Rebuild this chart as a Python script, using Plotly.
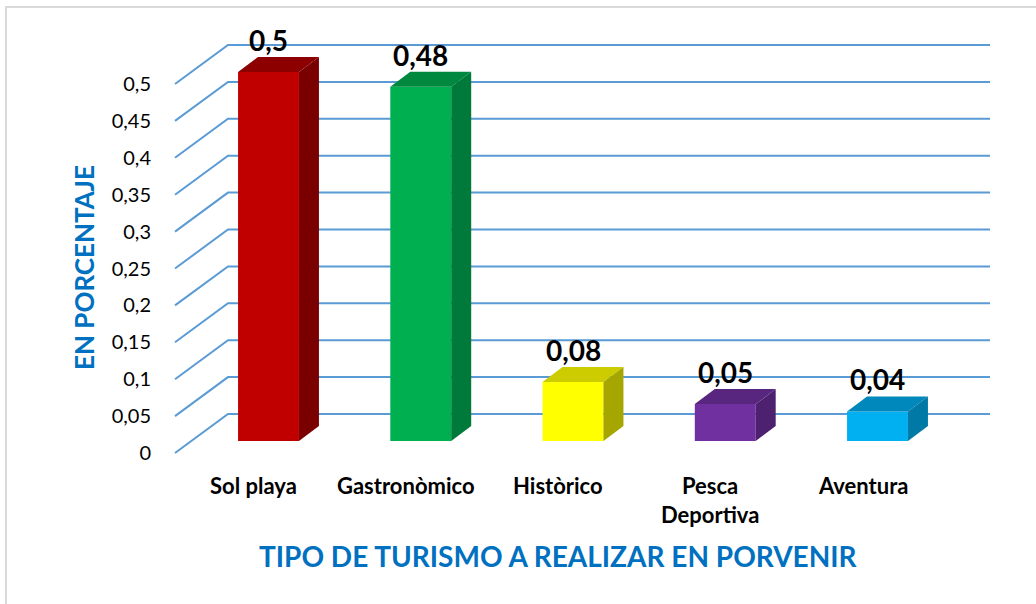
import plotly.graph_objects as go

# ---- data ----
categories = ["Sol playa", "Gastronòmico", "Històrico", "Pesca<br>Deportiva", "Aventura"]
values = [0.5, 0.48, 0.08, 0.05, 0.04]
value_labels = ["0,5", "0,48", "0,08", "0,05", "0,04"]
tick_values = [0, 0.05, 0.1, 0.15, 0.2, 0.25, 0.3, 0.35, 0.4, 0.45, 0.5]
front_colors = ["#C00000", "#00B050", "#FFFF00", "#7030A0", "#00B0F0"]
side_colors = ["#7A0000", "#007A3A", "#A6A600", "#4E2170", "#0079A6"]
top_colors = ["#8C0000", "#00883F", "#CCCC00", "#58257F", "#0088BC"]
x_title = "TIPO DE TURISMO A REALIZAR EN PORVENIR"
y_title = "EN PORCENTAJE"

# ---- geometry (pixels of the 1036x604 page) ----
W, H = 1036, 604
L, R, T, B = 168, 996, 36, 460
PX0, PXSTEP = 268.5, 152.25      # pixel x of first category, spacing
PY0, PYUNIT = 441.0, 738.0       # pixel y of value 0 (bar floor), px per unit
FRONT_Y0, BACK_Y0 = 453.0, 414.0  # wall floor front/back pixel y
FRONT_X, BACK_X, GRID_R = 175.0, 228.0, 990.0
BAR_W = 0.4
DDX, DDY = 20 / PXSTEP, 15 / PYUNIT
CAT_SHIFT = -15                  # category labels sit left of bar centres


def xd(px):
    return (px - PX0) / PXSTEP


def yd(py):
    return (PY0 - py) / PYUNIT


def xp(px):
    return (px - L) / (R - L)


def yp(py):
    return (B - py) / (B - T)


xs = list(range(len(categories)))
fig = go.Figure()

# front faces
fig.add_trace(go.Bar(x=xs, y=values, width=BAR_W, marker=dict(color=front_colors, line=dict(width=0)),
                     hoverinfo="skip", showlegend=False))

# top and side faces
for i, v in enumerate(values):
    c = xs[i]
    fig.add_trace(go.Scatter(
        x=[c - BAR_W / 2, c + BAR_W / 2, c + BAR_W / 2 + DDX, c - BAR_W / 2 + DDX, c - BAR_W / 2],
        y=[v, v, v + DDY, v + DDY, v], fill="toself", fillcolor=top_colors[i], mode="lines",
        line=dict(width=0, color=top_colors[i]), hoverinfo="skip", showlegend=False))
    fig.add_trace(go.Scatter(
        x=[c + BAR_W / 2, c + BAR_W / 2 + DDX, c + BAR_W / 2 + DDX, c + BAR_W / 2, c + BAR_W / 2],
        y=[0, DDY, v + DDY, v, 0], fill="toself", fillcolor=side_colors[i], mode="lines",
        line=dict(width=0, color=side_colors[i]), hoverinfo="skip", showlegend=False))

# gridlines (wall diagonal + back horizontal), drawn below traces
shapes = []
for v in tick_values:
    yf = yd(FRONT_Y0) + v
    yb = yd(BACK_Y0) + v
    shapes.append(dict(type="path", xref="x", yref="y", layer="below",
                       path=f"M {xd(FRONT_X)},{yf} L {xd(BACK_X)},{yb} L {xd(GRID_R)},{yb}",
                       line=dict(color="#5B9BD5", width=2)))
# outer frame
shapes.append(dict(type="rect", xref="paper", yref="paper", layer="below",
                   x0=xp(6), x1=xp(1050), y0=yp(620), y1=yp(7),
                   line=dict(color="#D9D9D9", width=2), fillcolor="rgba(0,0,0,0)"))

annotations = []
for i, v in enumerate(values):
    annotations.append(dict(x=xs[i], y=v + DDY, xref="x", yref="y", text=value_labels[i],
                            showarrow=False, xanchor="center", yanchor="bottom", yshift=-2,
                            font=dict(family="Lato", size=28, color="#000000", weight="bold")))
for i, cat in enumerate(categories):
    lines = cat.split("<br>")
    for j, ln in enumerate(lines):
        annotations.append(dict(x=xs[i], y=0, xref="x", yref="paper", text=ln, showarrow=False,
                                xanchor="center", yanchor="middle", xshift=CAT_SHIFT,
                                yshift=-(485 - B) - 29 * j,
                                font=dict(family="Lato", size=22, color="#000000", weight="bold")))
annotations.append(dict(x=xp(558), y=0, xref="paper", yref="paper", text=x_title,
                        showarrow=False, xanchor="center", yanchor="middle", yshift=-(556 - B),
                        font=dict(family="Lato", size=28, color="#0070C0", weight="bold")))
annotations.append(dict(x=xp(84), y=yp(268), xref="paper", yref="paper",
                        text=y_title, textangle=-90, showarrow=False, xanchor="center", yanchor="middle",
                        font=dict(family="Lato", size=26, color="#0070C0", weight="bold")))

fig.update_layout(
    width=W, height=H,
    margin=dict(l=L, r=W - R, t=T, b=H - B, pad=0, autoexpand=False),
    paper_bgcolor="white", plot_bgcolor="white", separators=",.",
    showlegend=False, shapes=shapes, annotations=annotations,
    xaxis=dict(range=[xd(L), xd(R)], showgrid=False, zeroline=False, showticklabels=False,
               showline=False, fixedrange=True),
    yaxis=dict(range=[yd(B), yd(T)], showgrid=False, zeroline=False, showticklabels=False,
               showline=False),
    yaxis2=dict(overlaying="y", side="left", anchor="x",
                range=[(FRONT_Y0 - B) / PYUNIT, (FRONT_Y0 - T) / PYUNIT],
                tickmode="array", tickvals=tick_values,
                ticktext=[f"{v:g}".replace(".", ",") for v in tick_values],
                ticks="outside", ticklen=12, tickcolor="rgba(0,0,0,0)",
                showgrid=False, zeroline=False, showline=False,
                tickfont=dict(family="Lato", size=20, color="#000000")),
)
# dummy trace to activate yaxis2
fig.add_trace(go.Scatter(x=[None], y=[None], yaxis="y2", showlegend=False, hoverinfo="skip"))

fig.write_html("out.html", config={"displayModeBar": False},
               post_script="document.body.style.margin='0';")
